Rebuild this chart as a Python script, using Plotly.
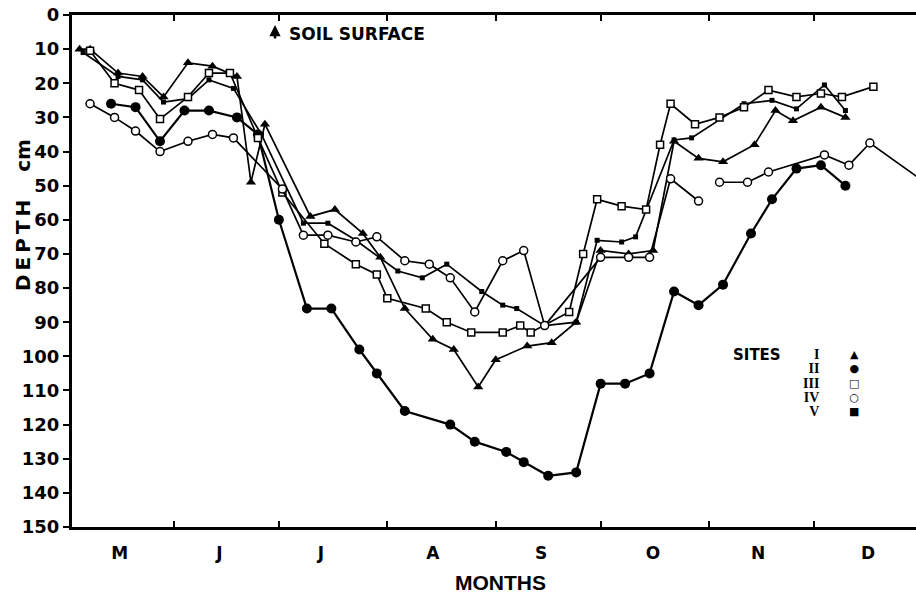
import plotly.graph_objects as go

# ---------------- data (day of year, depth in cm) ----------------
site_I_day = [125, 128, 136, 143, 149, 156, 163, 170, 174, 178, 191, 198, 206, 211, 218, 226, 232,
              239, 244, 253, 260, 267, 274, 282, 289, 295, 302, 309, 318, 324, 329, 337, 344]
site_I_depth = [10, 10, 17, 18, 24, 14, 15, 18, 49, 32, 59, 57, 64, 71, 86, 95, 98,
                109, 101, 97, 96, 90, 69, 70, 69, 37, 42, 43, 38, 28, 31, 27, 30]

site_II_day = [134, 141, 148, 155, 162, 170, 176, 182, 190, 197, 205, 210, 218, 231, 238,
               247, 252, 259, 267, 274, 281, 288, 295, 302, 309, 317, 323, 330, 337, 344]
site_II_depth = [26, 27, 37, 28, 28, 30, 35, 60, 86, 86, 98, 105, 116, 120, 125,
                 128, 131, 135, 134, 108, 108, 105, 81, 85, 79, 64, 54, 45, 44, 50]

site_III_day = [128, 135, 142, 148, 156, 162, 168, 176, 183, 195, 204, 210, 213, 224, 230, 237, 246,
                251, 254, 265, 269, 273, 280, 287, 291, 294, 301, 308, 315, 322, 330, 337, 343, 352]
site_III_depth = [10.5, 20, 22, 30.5, 24, 17, 17, 36, 52, 67, 73, 76, 83, 86, 90, 93, 93,
                  91, 93, 87, 70, 54, 56, 57, 38, 26, 32, 30, 27, 22, 24, 23, 24, 21]

site_IV_day = [128, 135, 141, 148, 156, 163, 169, 183, 189, 196, 204, 210, 218, 225, 231, 238,
               246, 252, 258, 274, 282, 288, 294, 302, None, 308, 316, 322, 338, 345, 351, 366]
site_IV_depth = [26, 30, 34, 40, 37, 35, 36, 51, 64.5, 64.5, 66.5, 65, 72, 73, 77, 87,
                 72, 69, 91, 71, 71, 71, 48, 54.5, None, 49, 49, 46, 41, 44, 37.5, 48.5]

site_V_day = [126, 136, 143, 149, 156, 162, 169, 177, 189, 196, 204, 216, 223, 230, 240,
              246, 250, 258, 267, 273, 280, 284, 295, 300, 315, 323, 330, 338, 344]
site_V_depth = [11, 18, 19, 25.5, 24.5, 19, 21.5, 35, 61, 61, 66, 75, 77, 73, 81,
                85, 86, 91, 90, 66, 66.5, 65, 36.6, 36, 26, 25, 27.5, 20.5, 28]

month_starts = [152, 182, 213, 244, 274, 305, 335]
month_label_pos = [136.5, 165, 194, 226, 257, 289, 319, 350.5]
month_labels = ["M", "J", "J", "A", "S", "O", "N", "D"]
depth_ticks = list(range(0, 151, 10))
site_names = ["I", "II", "III", "IV", "V"]
site_glyphs = ["▲", "●", "□", "○", "■"]

# ---------------- layout helpers ----------------
W, H = 916, 600
ML, MT, MR, MB = 72, 15, 0, 73
PW, PH = W - ML - MR, H - MT - MB


def px(x):
    return (x - ML) / PW


def py(y):
    return 1 - (y - MT) / PH


BOLD = dict(family="DejaVu Sans", color="black", weight="bold")

fig = go.Figure()

line = dict(color="black", width=1.7)
fig.add_trace(go.Scatter(x=site_V_day, y=site_V_depth, mode="lines+markers", line=line,
                         marker=dict(symbol="square", size=5, color="black")))
fig.add_trace(go.Scatter(x=site_I_day, y=site_I_depth, mode="lines+markers", line=line,
                         marker=dict(symbol="triangle-up", size=9, color="black")))
fig.add_trace(go.Scatter(x=site_II_day, y=site_II_depth, mode="lines+markers",
                         line=dict(color="black", width=2.2),
                         marker=dict(symbol="circle", size=10, color="black")))
fig.add_trace(go.Scatter(x=site_III_day, y=site_III_depth, mode="lines+markers", line=line,
                         marker=dict(symbol="square", size=7, color="white",
                                     line=dict(color="black", width=1.5))))
fig.add_trace(go.Scatter(x=site_IV_day, y=site_IV_depth, mode="lines+markers", line=line,
                         connectgaps=False,
                         marker=dict(symbol="circle", size=8, color="white",
                                     line=dict(color="black", width=1.5))))

x_lo = 152 + (ML - 174) / 3.497
x_hi = 152 + (W - MR - 174) / 3.497

fig.update_layout(
    width=W, height=H,
    margin=dict(l=ML, r=MR, t=MT, b=MB, pad=0),
    paper_bgcolor="white", plot_bgcolor="white",
    showlegend=False,
    xaxis=dict(
        range=[x_lo, x_hi], showgrid=False, zeroline=False,
        showline=True, linecolor="black", linewidth=2.5, mirror="ticks",
        tickmode="array", tickvals=month_label_pos, ticktext=month_labels,
        ticks="", ticklabelstandoff=9,
        tickfont=dict(size=17, **BOLD),
        minor=dict(tickmode="array", tickvals=month_starts, ticks="inside",
                   ticklen=6, tickwidth=2, tickcolor="black", showgrid=False),
    ),
    yaxis=dict(
        range=[150, 0], showgrid=False, zeroline=False,
        showline=True, linecolor="black", linewidth=3,
        tickmode="array", tickvals=depth_ticks,
        ticks="outside", ticklen=6, tickwidth=2, tickcolor="black",
        ticklabelstandoff=0,
        tickfont=dict(size=18, **BOLD),
    ),
)

ann = []
ann.append(dict(text="D\u2009E\u2009P\u2009T\u2009H&nbsp;&nbsp;&nbsp;&nbsp;cm", textangle=-90,
                x=px(23), y=py(215), xref="paper", yref="paper", showarrow=False,
                xanchor="center", yanchor="middle", font=dict(size=20, **BOLD)))
ann.append(dict(text="MONTHS", x=px(500), y=py(582), xref="paper", yref="paper",
                showarrow=False, xanchor="center", yanchor="middle",
                font=dict(size=21, family="Liberation Sans", color="black", weight="bold")))
ann.append(dict(text="SOIL SURFACE", x=px(287), y=py(34), xref="paper", yref="paper",
                showarrow=False, xanchor="left", yanchor="middle",
                font=dict(size=17, **BOLD)))
ann.append(dict(text="", x=px(275), y=py(25), xref="paper", yref="paper",
                showarrow=True, ax=0, ay=15, arrowhead=2, arrowsize=0.9,
                arrowwidth=2.5, arrowcolor="black"))
ann.append(dict(text="SITES", x=px(757), y=py(355), xref="paper", yref="paper",
                showarrow=False, xanchor="center", yanchor="middle",
                font=dict(size=15, **BOLD)))

# legend block: one multi-line text for the numerals, one for the symbols
names_txt = "<br>".join('<span style="font-size:14px">%s</span>' % n for n in site_names)
glyph_txt = "<br>".join('<span style="font-size:11px">%s</span>' % g for g in site_glyphs)
ann.append(dict(text=names_txt, x=px(821), y=py(383), xref="paper", yref="paper",
                showarrow=False, xanchor="right", yanchor="middle", align="right",
                font=dict(size=11, family="Liberation Serif", color="black", weight="bold")))
ann.append(dict(text=glyph_txt, x=px(854), y=py(383), xref="paper", yref="paper",
                showarrow=False, xanchor="center", yanchor="middle", align="center",
                font=dict(size=11, family="DejaVu Sans", color="black")))
fig.update_layout(annotations=ann)

fig.write_html("out.html")
